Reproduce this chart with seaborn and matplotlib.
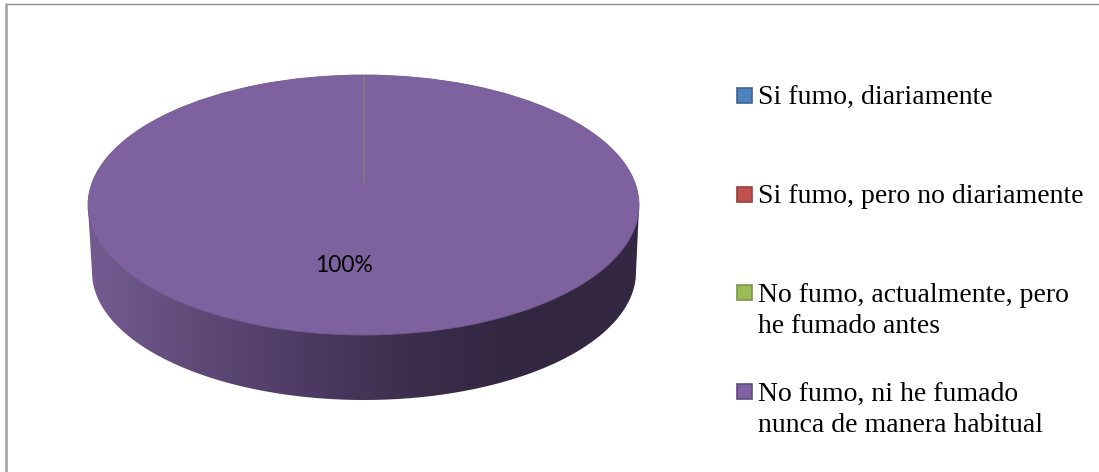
# pie chart, fake 3D look: tabaco survey
import numpy as np
import matplotlib
matplotlib.use("Agg")
import matplotlib.pyplot as plt
from matplotlib.colors import LinearSegmentedColormap
from matplotlib.patches import Rectangle, PathPatch
from matplotlib.path import Path
import seaborn as sns

categories = ["Si fumo, diariamente",
              "Si fumo, pero no diariamente",
              "No fumo, actualmente, pero\nhe fumado antes",
              "No fumo, ni he fumado\nnunca de manera habitual"]
shares = [0, 0, 0, 100]
pie_colors = ["#4f81bd", "#c0504d", "#9bbb59", "#7e62a0"]
edge_colors = ["#3a6595", "#96403d", "#7a9546", "#5f4a7c"]
side_colors = ["#745c92", "#5f4a77", "#4d3a63", "#3b2d4b", "#322640", "#342842"]

W, H = 1099, 472

sns.set_theme(style="white")
plt.rcParams["font.family"] = ["Liberation Serif", "DejaVu Serif"]

fig = plt.figure(figsize=(W / 100, H / 100), dpi=100, facecolor="white")

# pixel sized layer for frame, pie side, legend
bg = fig.add_axes([0, 0, 1, 1])
bg.set_xlim(0, W)
bg.set_ylim(H, 0)
bg.axis("off")

# frame, only top and left are inside the crop
bg.plot([6, W], [4, 4], color="#8c8c8c", lw=1.0)
bg.plot([6, 6], [4, H], color="#a0a0a0", lw=1.8)

# pie side: lower half of a slightly smaller ellipse
t = np.linspace(np.pi, 0, 120)
side_x = np.r_[88, 364 + 272 * np.cos(t), 639]
side_y = np.r_[208, 272 + 128 * np.sin(t), 208]
side = PathPatch(Path(np.c_[side_x, side_y]), fc="none", ec="none")
bg.add_patch(side)
cmap = LinearSegmentedColormap.from_list("side", side_colors)
im = bg.imshow(np.linspace(0, 1, 256)[None, :], cmap=cmap, aspect="auto",
               extent=(88, 639, 400, 205), zorder=1)
im.set_clip_path(side)
bg.set_xlim(0, W)
bg.set_ylim(H, 0)

# top face
ax = fig.add_axes([88 / W, 1 - 335 / H, 551 / W, 260 / H])
ax.patch.set_alpha(0)
wedges, _ = ax.pie(shares, colors=pie_colors, startangle=90, counterclock=False, radius=1)
for w, s in zip(wedges, shares):
    w.set_visible(s > 0)
    w.set_edgecolor("#735a93")
    w.set_linewidth(0.6)
ax.set_aspect("auto")
ax.set_xlim(-1, 1)
ax.set_ylim(-1, 1)
# empty slices end up as one spoke, hub sits above centre in the perspective
ax.vlines(0, 0.17, 1, color="#7d7d7d", lw=1.2)

# data label on top of everything
top = fig.add_axes([0, 0, 1, 1])
top.set_xlim(0, W)
top.set_ylim(H, 0)
top.axis("off")
top.patch.set_alpha(0)
top.text(344, 265, f"{shares[3]}%", family="Lato", fontsize=16.5, color="black",
         ha="center", va="center")

# legend, entries evenly spaced
for i, (name, col, edge) in enumerate(zip(categories, pie_colors, edge_colors)):
    y0 = 88 + i * 98.7
    top.add_patch(Rectangle((737, y0), 15, 15, fc=col, ec=edge, lw=1.2))
    # baseline of a text block is its last line
    top.text(758, y0 + 16 + name.count("\n") * 32, name, fontsize=20, color="black",
             ha="left", va="baseline", linespacing=1.34)

fig.savefig("out.png", dpi=100)
